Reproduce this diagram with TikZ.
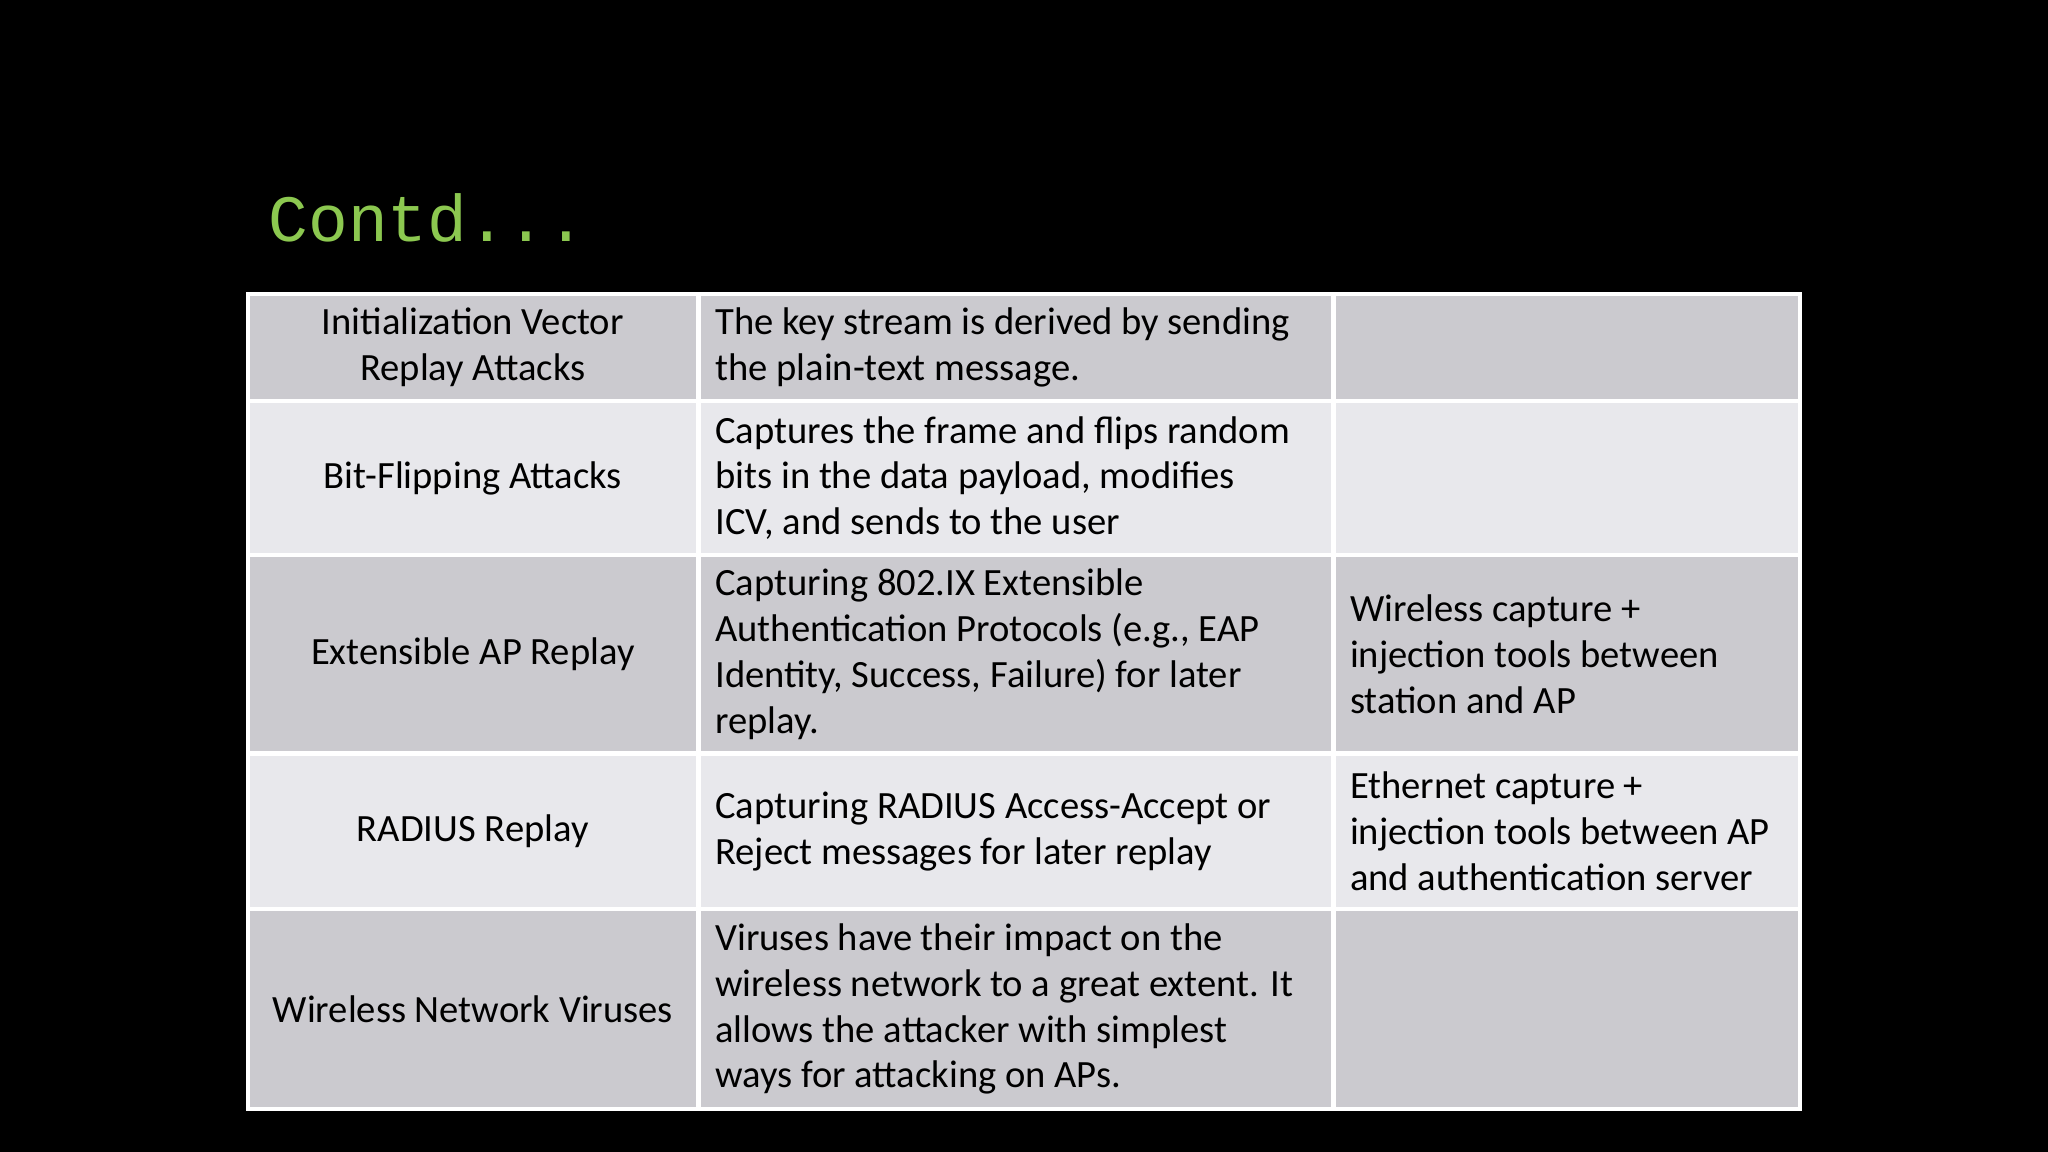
\documentclass[tikz,border=0pt]{standalone}
\usepackage{fontspec}
\setmainfont{Carlito}
\newfontfamily\titlefont{Liberation Mono}
\usetikzlibrary{positioning}
\definecolor{rowdark}{RGB}{203,202,207}
\definecolor{rowlight}{RGB}{232,232,236}
\definecolor{titlegreen}{RGB}{140,200,80}
\tikzset{
  cell/.style={inner sep=0pt,font=\fontsize{8.4}{10}\selectfont,text=black},
  namecell/.style={cell,align=center,anchor=center},
  desccell/.style={cell,align=left,anchor=west},
  toolcell/.style={cell,align=left,anchor=west},
}
\begin{document}
\begin{tikzpicture}[x=0.01cm,y=-0.01cm]
\fill[black] (0,0) rectangle (1568,882);
\node[anchor=base west,inner sep=0pt,text=titlegreen,font=\titlefont\fontsize{14.4}{15}\selectfont] (title) at (205,185) {Contd...};
% rows: top y, height, fill
\foreach \top/\h/\c [count=\i] in {225/82/rowdark,307/118/rowlight,425/152/rowdark,577/119/rowlight,696/153/rowdark}{
  \fill[\c] (190,\top) rectangle (1378,\top+\h);
  \draw[white,line width=1pt] (190,\top) rectangle (1378,\top+\h);
  \coordinate (r\i) at (0,\top+\h/2);
}
\draw[white,line width=1pt] (535,225) -- (535,849) (1021,225) -- (1021,849);
% column 1
\node[namecell] (n1) at (362,0 |- r1) {Initialization Vector\\Replay Attacks};
\node[namecell] (n2) at (362,0 |- r2) {Bit-Flipping Attacks};
\node[namecell] (n3) at (362,0 |- r3) {Extensible AP Replay};
\node[namecell] (n4) at (362,0 |- r4) {RADIUS Replay};
\node[namecell] (n5) at (362,0 |- r5) {Wireless Network Viruses};
% column 2
\node[desccell] (d1) at (547,0 |- r1) {The key stream is derived by sending\\the plain-text message.};
\node[desccell] (d2) at (547,0 |- r2) {Captures the frame and flips random\\bits in the data payload, modifies\\ICV, and sends to the user};
\node[desccell] (d3) at (547,0 |- r3) {Capturing 802.IX Extensible\\Authentication Protocols (e.g., EAP\\Identity, Success, Failure) for later\\replay.};
\node[desccell] (d4) at (547,0 |- r4) {Capturing RADIUS Access-Accept or\\Reject messages for later replay};
\node[desccell] (d5) at (547,0 |- r5) {Viruses have their impact on the\\wireless network to a great extent. It\\allows the attacker with simplest\\ways for attacking on APs.};
% column 3
\node[toolcell] (t3) at (1033,0 |- r3) {Wireless capture +\\injection tools between\\station and AP};
\node[toolcell] (t4) at (1033,0 |- r4) {Ethernet capture +\\injection tools between AP\\and authentication server};
\end{tikzpicture}
\end{document}
